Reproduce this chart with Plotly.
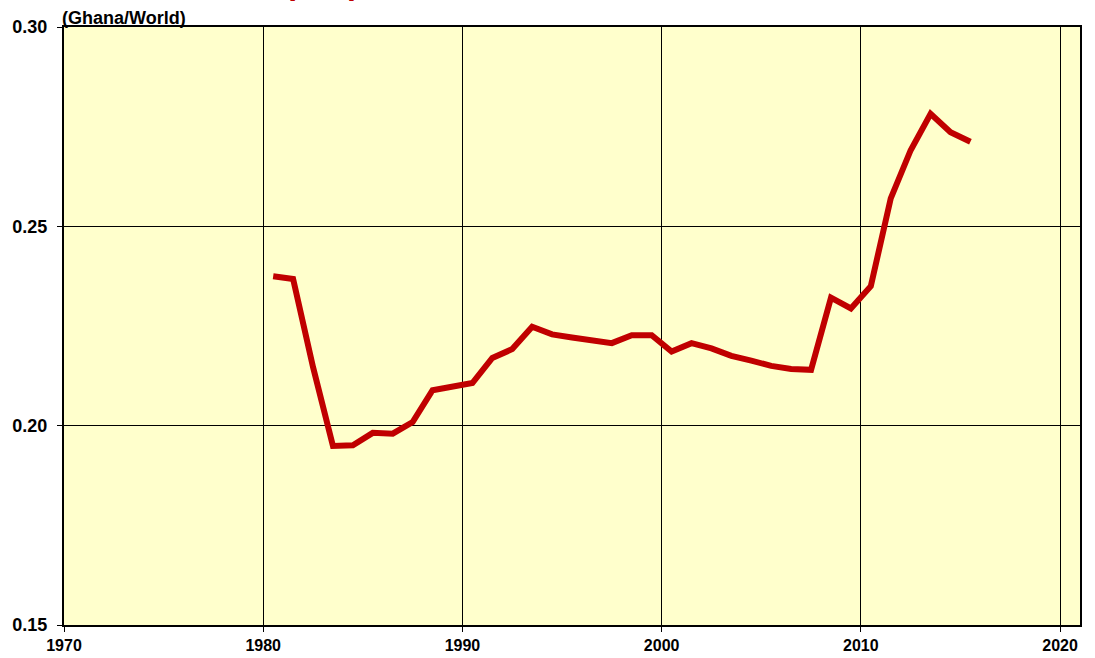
import plotly.graph_objects as go

years = [1980.5, 1981.5, 1982.5, 1983.5, 1984.5, 1985.5, 1986.5, 1987.5, 1988.5, 1989.5,
         1990.5, 1991.5, 1992.5, 1993.5, 1994.5, 1995.5, 1996.5, 1997.5, 1998.5, 1999.5,
         2000.5, 2001.5, 2002.5, 2003.5, 2004.5, 2005.5, 2006.5, 2007.5, 2008.5, 2009.5,
         2010.5, 2011.5, 2012.5, 2013.5, 2014.5, 2015.5]
ratio = [0.2375, 0.2368, 0.2147, 0.1949, 0.1951, 0.1982, 0.1980, 0.2009, 0.2089, 0.2099,
         0.2107, 0.2170, 0.2192, 0.2248, 0.2229, 0.2221, 0.2213, 0.2207, 0.2227, 0.2227,
         0.2186, 0.2207, 0.2194, 0.2175, 0.2163, 0.2150, 0.2142, 0.2140, 0.2321, 0.2294,
         0.2350, 0.2570, 0.2691, 0.2782, 0.2736, 0.2712]

x_ticks = [1970, 1980, 1990, 2000, 2010, 2020]
y_ticks = [0.15, 0.20, 0.25, 0.30]

FONT = "Arial, Liberation Sans, sans-serif"

fig = go.Figure()
fig.add_trace(go.Scatter(
    x=years, y=ratio, mode="lines",
    line=dict(color="#C00000", width=6),
    hoverinfo="x+y", showlegend=False,
))

fig.update_layout(
    width=1095, height=658,
    margin=dict(l=64, r=15, t=27, b=33),
    paper_bgcolor="white",
    plot_bgcolor="#FFFFCC",
    font=dict(family=FONT, color="black"),
    annotations=[
        dict(text="(Ghana/World)", xref="paper", yref="paper", x=0, y=1,
             xanchor="left", yanchor="bottom", showarrow=False,
             font=dict(size=18, family=FONT, color="black", weight="bold"),
             xshift=-4, yshift=-3),
        dict(text="Relative GDP per person", xref="paper", yref="paper", x=0.0124, y=1,
             xanchor="left", yanchor="bottom", showarrow=False,
             font=dict(size=32, family=FONT, color="#C00000", weight="bold"), yshift=23.5),
    ],
)
fig.update_xaxes(
    range=[1970, 2021], tickvals=x_ticks, ticktext=[str(v) for v in x_ticks],
    showgrid=True, gridcolor="black", gridwidth=1,
    showline=True, linecolor="black", linewidth=2, mirror=True,
    ticks="outside", ticklen=5, tickcolor="black",
    tickfont=dict(size=16, family=FONT, color="black", weight="bold"),
    zeroline=False, automargin=False,
)
fig.update_yaxes(
    range=[0.15, 0.30], tickvals=y_ticks, ticktext=["%.2f" % v for v in y_ticks],
    showgrid=True, gridcolor="black", gridwidth=1,
    showline=True, linecolor="black", linewidth=2, mirror=True,
    ticks="outside", ticklen=5, tickcolor="black", ticklabelstandoff=6,
    tickfont=dict(size=18, family=FONT, color="black", weight="bold"),
    zeroline=False, automargin=False,
)

fig.write_html("out.html", config={"displayModeBar": False},
               post_script="document.body.style.margin='0';")
